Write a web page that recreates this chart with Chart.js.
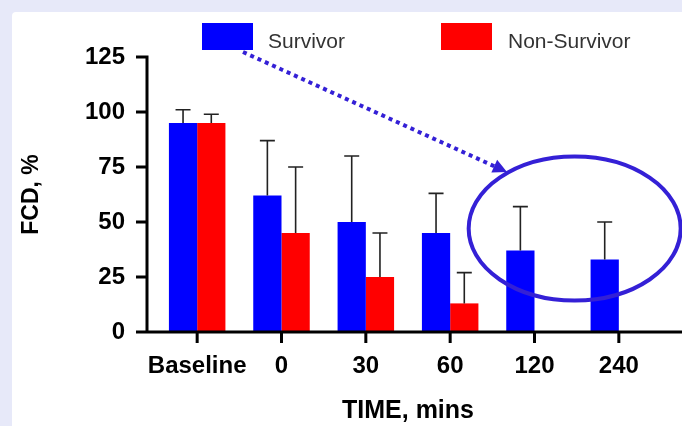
<!DOCTYPE html>
<html>
<head>
<meta charset="utf-8">
<script src="https://cdn.jsdelivr.net/npm/chart.js@4.4.1/dist/chart.umd.min.js"></script>
<style>
  html, body { margin: 0; padding: 0; background: #e7e9f9; }
</style>
</head>
<body>
<canvas id="fcdChart" width="682" height="426"></canvas>
<script>
const timeLabels = ['Baseline', '0', '30', '60', '120', '240'];
const survivorMean = [95, 62, 50, 45, 37, 33];
const survivorSD = [6, 25, 30, 18, 20, 17];
const nonSurvivorMean = [95, 45, 25, 13, null, null];
const nonSurvivorSD = [4, 30, 20, 14, null, null];
const yTicks = [0, 25, 50, 75, 100, 125];

const FONT = '"Liberation Sans", Arial, Helvetica, sans-serif';
const MARK = '#3420d6';

// lavender frame and white panel
const panel = {
    id: 'panel',
    beforeDraw(chart) {
        let ctx = chart.ctx;
        ctx.save();
        ctx.fillStyle = '#e7e9f9';
        ctx.fillRect(0, 0, chart.width, chart.height);
        ctx.fillStyle = '#ffffff';
        ctx.beginPath();
        ctx.roundRect(12, 12, chart.width, chart.height, 4);
        ctx.fill();
        ctx.restore();
    }
};

// upper error bars only
const errorBars = {
    id: 'errorBars',
    afterDatasetsDraw(chart) {
        let ctx = chart.ctx;
        let y = chart.scales.y;
        chart.data.datasets.forEach((ds, i) => {
            chart.getDatasetMeta(i).data.forEach((bar, j) => {
                let v = ds.data[j], e = ds.errors[j];
                if (v == null || e == null) return;
                let top = y.getPixelForValue(v + e);
                ctx.save();
                ctx.strokeStyle = '#222';
                ctx.lineWidth = 1.6;
                ctx.beginPath();
                ctx.moveTo(bar.x, bar.y);
                ctx.lineTo(bar.x, top);
                ctx.moveTo(bar.x - 7.5, top);
                ctx.lineTo(bar.x + 7.5, top);
                ctx.stroke();
                ctx.restore();
            });
        });
    }
};

// prism-style axes, offset from the plot
const axes = {
    id: 'axes',
    afterDatasetsDraw(chart) {
        let ctx = chart.ctx;
        let x = chart.scales.x, y = chart.scales.y;
        let ax = 147, tick = 11;
        let y0 = y.getPixelForValue(0);
        ctx.save();
        ctx.strokeStyle = '#000';
        ctx.lineWidth = 3;
        ctx.beginPath();
        ctx.moveTo(ax, y.getPixelForValue(yTicks[yTicks.length - 1]) - 1.5);
        ctx.lineTo(ax, y0);
        yTicks.forEach(v => {
            let p = y.getPixelForValue(v);
            ctx.moveTo(ax - tick, p);
            ctx.lineTo(ax, p);
        });
        ctx.moveTo(ax - tick, y0);
        ctx.lineTo(chart.width, y0);
        timeLabels.forEach((l, i) => {
            let p = x.getPixelForTick(i);
            ctx.moveTo(p, y0);
            ctx.lineTo(p, y0 + tick);
        });
        ctx.stroke();
        ctx.restore();
    }
};

// legend, arrow and ellipse
const notes = {
    id: 'notes',
    afterDraw(chart) {
        let ctx = chart.ctx;
        let ds = chart.data.datasets;
        let items = [[202, 268], [441, 508]];
        ctx.save();
        ctx.font = '21px ' + FONT;
        ctx.textBaseline = 'middle';
        items.forEach((it, i) => {
            ctx.fillStyle = ds[i].backgroundColor;
            ctx.fillRect(it[0], 23, 51, 27);
            ctx.fillStyle = '#333';
            ctx.fillText(ds[i].label, it[1], 42);
        });

        let x = chart.scales.x, y = chart.scales.y;
        let cx = (x.getPixelForTick(4) + x.getPixelForTick(5)) / 2 - 2;
        let cy = y.getPixelForValue(47);
        ctx.strokeStyle = MARK;
        ctx.lineWidth = 4;
        ctx.beginPath();
        ctx.ellipse(cx, cy, 106, 72, 0, 0, Math.PI * 2);
        ctx.stroke();

        let sx = 243, sy = 52, tx = 507, ty = 172;
        let dx = tx - sx, dy = ty - sy, len = Math.hypot(dx, dy);
        let ux = dx / len, uy = dy / len, head = 14;
        let bx = tx - ux * head, by = ty - uy * head;
        ctx.setLineDash([4, 4]);
        ctx.lineWidth = 4;
        ctx.beginPath();
        ctx.moveTo(sx, sy);
        ctx.lineTo(bx, by);
        ctx.stroke();
        ctx.setLineDash([]);
        ctx.fillStyle = MARK;
        ctx.beginPath();
        ctx.moveTo(tx, ty);
        ctx.lineTo(bx - uy * 7, by + ux * 7);
        ctx.lineTo(bx + uy * 7, by - ux * 7);
        ctx.closePath();
        ctx.fill();
        ctx.restore();
    }
};

let canvas = document.getElementById('fcdChart').getContext('2d');
new Chart(canvas, {
    type: 'bar',
    data: {
        labels: timeLabels,
        datasets: [{
            label: 'Survivor',
            data: survivorMean,
            errors: survivorSD,
            backgroundColor: '#0000ff',
        }, {
            label: 'Non-Survivor',
            data: nonSurvivorMean,
            errors: nonSurvivorSD,
            backgroundColor: '#ff0000',
        }],
    },
    options: {
        responsive: false,
        animation: false,
        layout: { padding: { top: 57, right: 21, left: 0, bottom: 0 } },
        datasets: { bar: { categoryPercentage: 0.67, barPercentage: 1 } },
        plugins: { legend: { display: false }, tooltip: { enabled: false } },
        scales: {
            x: {
                grid: { display: false, drawTicks: false },
                border: { display: false },
                ticks: { color: '#000', font: { family: FONT, size: 24, weight: 'bold' }, padding: 20, maxRotation: 0, autoSkip: false },
                title: { display: true, text: 'TIME, mins', color: '#000', font: { family: FONT, size: 25, weight: 'bold' }, padding: { top: 15, bottom: 0 } },
                afterFit: s => { s.height = 94; }
            },
            y: {
                min: 0,
                max: 125,
                grid: { display: false, drawTicks: false },
                border: { display: false },
                afterBuildTicks: s => { s.ticks = yTicks.map(v => ({ value: v })); },
                ticks: { color: '#000', font: { family: FONT, size: 24, weight: 'bold' }, padding: 30 },
                title: { display: true, text: 'FCD, %', color: '#000', font: { family: FONT, size: 23, weight: 'bold' }, padding: { top: 18, bottom: 0 } },
                afterFit: s => { s.width = 155; }
            }
        }
    },
    plugins: [panel, errorBars, axes, notes]
});
</script>
</body>
</html>
